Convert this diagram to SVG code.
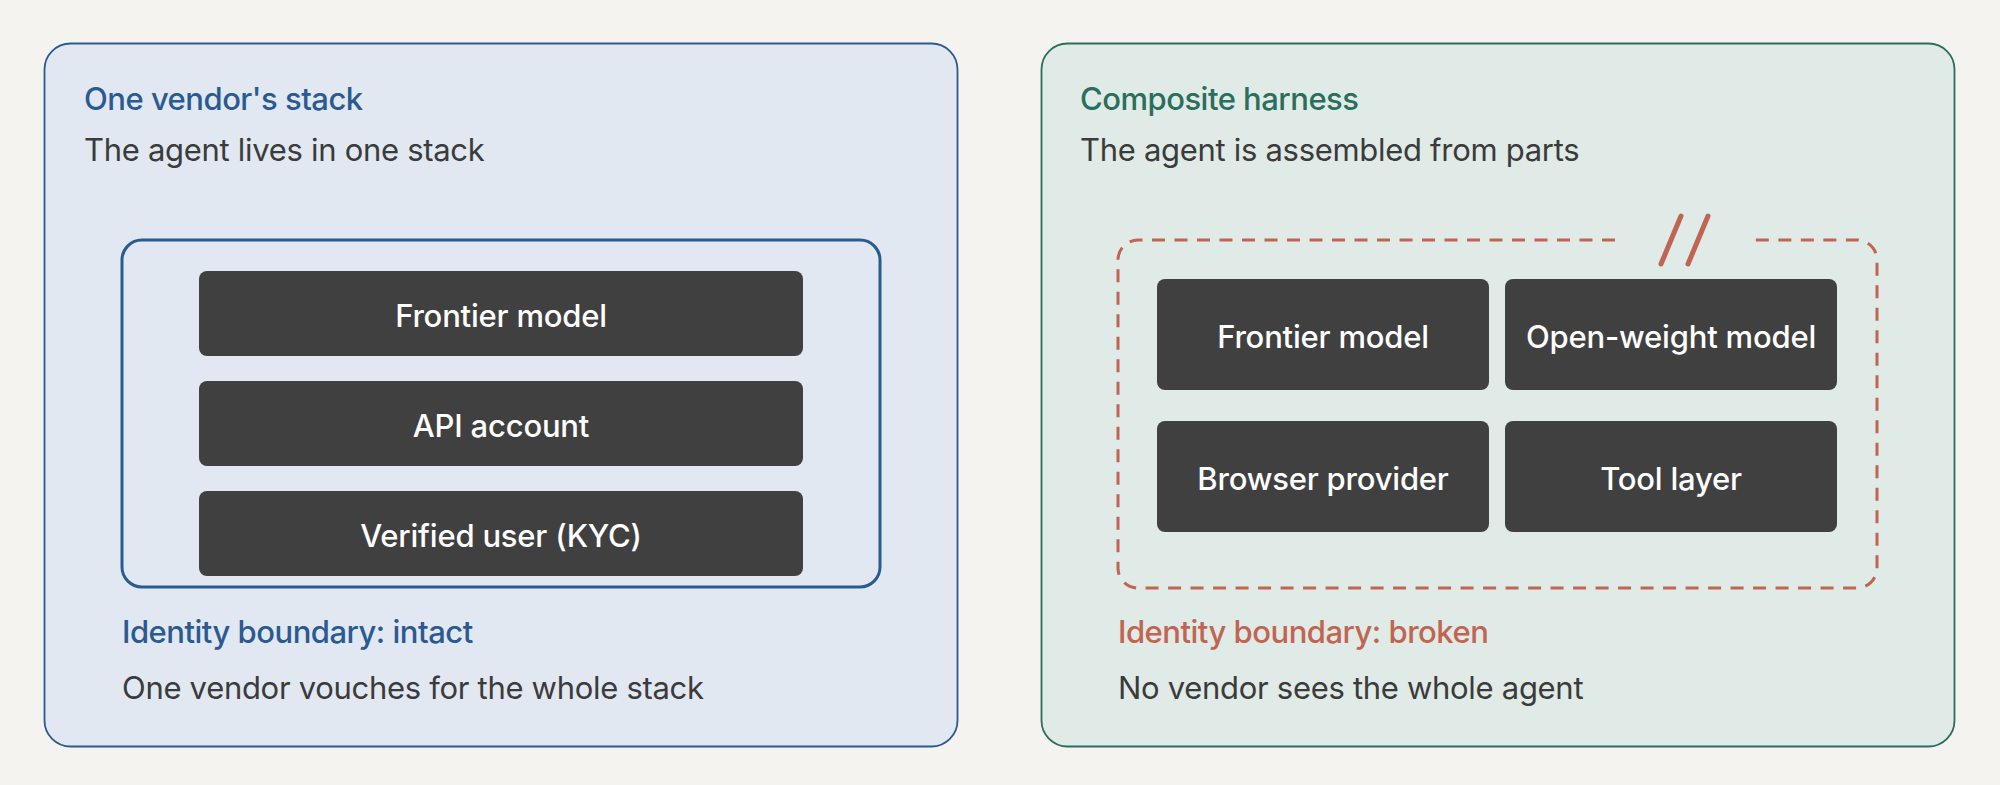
<svg xmlns="http://www.w3.org/2000/svg" width="2000" height="785" viewBox="0 0 2000 785">
<style>
.bg{fill:#f4f3ef}
.title{font-family:Inter,"Liberation Sans",sans-serif;font-size:31px;font-weight:500;letter-spacing:-0.5px}
.sub{font-family:Inter,"Liberation Sans",sans-serif;font-size:31px;font-weight:400;letter-spacing:-0.3px;fill:#3b3b3b}
.blk{fill:#404040}
.lbl{font-family:Inter,"Liberation Sans",sans-serif;font-size:31px;font-weight:500;letter-spacing:-0.2px;fill:#ffffff;text-anchor:middle}
.blue{fill:#2b5a91}
.teal{fill:#2a6e5c}
.red{fill:#bf6551}
</style>
<rect class="bg" x="0" y="0" width="2000" height="785"/>

<g id="panel-left">
  <rect x="44.5" y="43.5" width="913" height="703" rx="26" fill="#e1e8f1" stroke="#2b5a91" stroke-width="1.8"/>
  <text class="title blue" x="84" y="110">One vendor's stack</text>
  <text class="sub" x="84" y="161">The agent lives in one stack</text>
</g>
<g id="identity-intact">
  <rect x="122" y="240" width="758" height="347" rx="20" fill="none" stroke="#2b5a91" stroke-width="3"/>
</g>
<g id="frontier-model-left">
  <rect class="blk" x="199" y="271" width="604" height="85" rx="8"/>
  <text class="lbl" x="501" y="327">Frontier model</text>
</g>
<g id="api-account">
  <rect class="blk" x="199" y="381" width="604" height="85" rx="8"/>
  <text class="lbl" x="501" y="437">API account</text>
</g>
<g id="verified-user">
  <rect class="blk" x="199" y="491" width="604" height="85" rx="8"/>
  <text class="lbl" x="501" y="547">Verified user (KYC)</text>
</g>
<g id="caption-left">
  <text class="title blue" x="122" y="643">Identity boundary: intact</text>
  <text class="sub" x="122" y="699">One vendor vouches for the whole stack</text>
</g>

<g id="panel-right">
  <rect x="1041.5" y="43.5" width="913" height="703" rx="26" fill="#e0eae6" stroke="#2a6e5c" stroke-width="1.8"/>
  <text class="title teal" x="1080" y="110">Composite harness</text>
  <text class="sub" x="1080" y="161">The agent is assembled from parts</text>
</g>
<g id="identity-broken" fill="none" stroke="#bf6551" stroke-width="3">
  <path d="M1615,240 H1138 A20,20 0 0 0 1118,260 V568 A20,20 0 0 0 1138,588 H1857 A20,20 0 0 0 1877,568 V260 A20,20 0 0 0 1857,240 H1755" stroke-dasharray="13 9.5"/>
  <line x1="1681" y1="216" x2="1661" y2="264" stroke-width="5" stroke-linecap="round"/>
  <line x1="1708" y1="216" x2="1688" y2="264" stroke-width="5" stroke-linecap="round"/>
</g>
<g id="frontier-model-right">
  <rect class="blk" x="1157" y="279" width="332" height="111" rx="8"/>
  <text class="lbl" x="1323" y="348">Frontier model</text>
</g>
<g id="open-weight-model">
  <rect class="blk" x="1505" y="279" width="332" height="111" rx="8"/>
  <text class="lbl" x="1671" y="348">Open-weight model</text>
</g>
<g id="browser-provider">
  <rect class="blk" x="1157" y="421" width="332" height="111" rx="8"/>
  <text class="lbl" x="1323" y="490">Browser provider</text>
</g>
<g id="tool-layer">
  <rect class="blk" x="1505" y="421" width="332" height="111" rx="8"/>
  <text class="lbl" x="1671" y="490">Tool layer</text>
</g>
<g id="caption-right">
  <text class="title red" x="1118" y="643">Identity boundary: broken</text>
  <text class="sub" x="1118" y="699">No vendor sees the whole agent</text>
</g>
<g id="connectors"></g>
</svg>
